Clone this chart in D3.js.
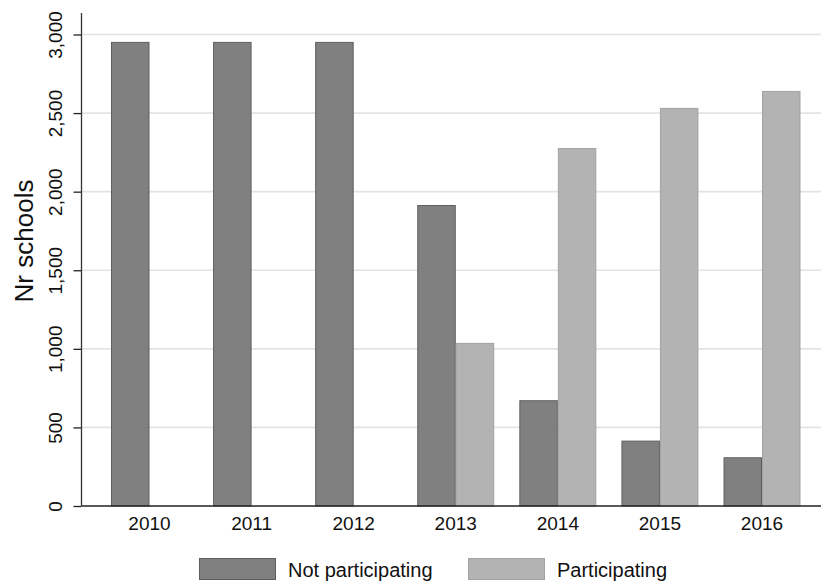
<!DOCTYPE html>
<html>
<head>
<meta charset="utf-8">
<script src="https://cdn.jsdelivr.net/npm/d3@7"></script>
<style>
  html, body { margin: 0; padding: 0; background: #fff; }
  svg { display: block; font-family: "Liberation Sans", Arial, Helvetica, sans-serif; }
</style>
</head>
<body>
<svg id="chart" width="821" height="588"></svg>
<script>
const years = ["2010", "2011", "2012", "2013", "2014", "2015", "2016"];
const notParticipating = [2953, 2953, 2953, 1915, 673, 416, 310];
const participating = [0, 0, 0, 1038, 2278, 2533, 2641];
const seriesNames = ["Not participating", "Participating"];
const yTicks = [0, 500, 1000, 1500, 2000, 2500, 3000];
const yTitle = "Nr schools";

const fills = ["#808080", "#b3b3b3"];
const strokes = ["#5e5e5e", "#a2a2a2"];

const svg = d3.select("#chart");
const x0 = 81.5, yBottom = 506, yTop = 13;

const y = d3.scaleLinear().domain([0, 3000]).range([yBottom, 34.5]);
const x = d3.scaleBand().domain(years).range([x0, 830]).paddingInner(0.246).paddingOuter(0.289);
const xs = d3.scaleBand().domain([0, 1]).range([0, x.bandwidth()]);

// gridlines
svg.append("g").selectAll("line").data(yTicks.filter(d => d > 0)).join("line")
  .attr("x1", x0).attr("x2", 821)
  .attr("y1", d => y(d)).attr("y2", d => y(d))
  .attr("stroke", "#e3e3e3").attr("stroke-width", 1.6);

// bars
const data = years.map((yr, i) => ({ yr, vals: [notParticipating[i], participating[i]] }));
const g = svg.append("g");
data.forEach(d => {
  d.vals.forEach((v, k) => {
    if (v <= 0) return;
    g.append("rect")
      .attr("x", x(d.yr) + xs(k) + 0.5)
      .attr("y", y(v) + 0.5)
      .attr("width", xs.bandwidth() - 1)
      .attr("height", y(0) - y(v) - 0.5)
      .attr("fill", fills[k])
      .attr("stroke", strokes[k])
      .attr("stroke-width", 1);
  });
});

// y axis
const yAxis = d3.axisLeft(y).tickValues(yTicks).tickSize(8).tickPadding(0).tickFormat(d3.format(","));
const ya = svg.append("g").attr("transform", `translate(${x0},0)`).call(yAxis);
ya.select(".domain").remove();
ya.selectAll(".tick line").attr("stroke", "#222").attr("stroke-width", 1.3);
ya.selectAll(".tick text")
  .attr("x", null).attr("dy", null)
  .attr("transform", "translate(-19.5,0) rotate(-90)")
  .attr("text-anchor", "middle")
  .attr("fill", "#111")
  .style("font-size", "19px");
svg.append("line").attr("x1", x0).attr("x2", x0).attr("y1", yTop).attr("y2", yBottom)
  .attr("stroke", "#333").attr("stroke-width", 1.3);

// x axis
const xAxis = d3.axisBottom(x).tickSize(0).tickPadding(0);
const xa = svg.append("g").attr("transform", `translate(0,${yBottom})`).call(xAxis);
xa.select(".domain").remove();
xa.selectAll(".tick text").attr("dy", null).attr("y", 23.5)
  .attr("fill", "#111").style("font-size", "19px");
svg.append("line").attr("x1", x0).attr("x2", 821).attr("y1", yBottom).attr("y2", yBottom)
  .attr("stroke", "#222").attr("stroke-width", 1.3);

// y title
svg.append("text")
  .attr("transform", "translate(33,241) rotate(-90)")
  .attr("text-anchor", "middle")
  .attr("fill", "#111")
  .style("font-size", "26px")
  .text(yTitle);

// legend
const legendX = [199, 468];
seriesNames.forEach((name, k) => {
  svg.append("rect").attr("x", legendX[k] + 0.5).attr("y", 558.5).attr("width", 76).attr("height", 21)
    .attr("fill", fills[k]).attr("stroke", strokes[k]).attr("stroke-width", 1);
  svg.append("text").attr("x", legendX[k] + 89).attr("y", 576.5)
    .attr("fill", "#111").style("font-size", "20px").text(name);
});
</script>
</body>
</html>
